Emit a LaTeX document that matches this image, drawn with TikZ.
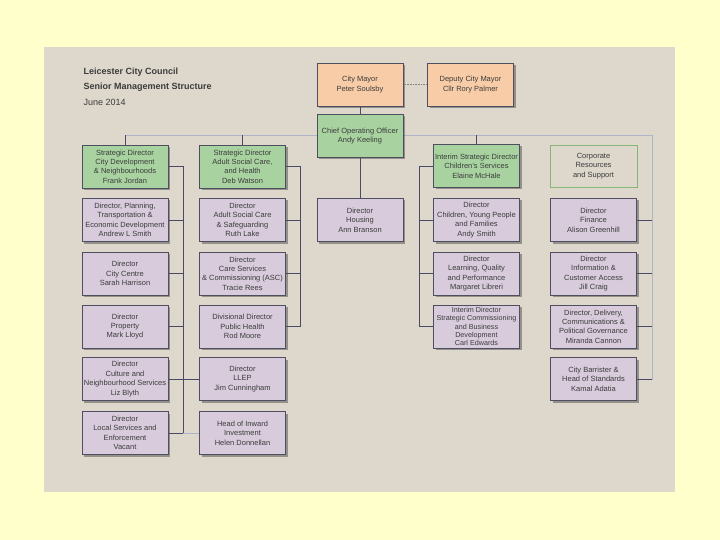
\documentclass[tikz,border=0pt]{standalone}
\usepackage{fontspec}
\setmainfont{Liberation Sans}
\usetikzlibrary{shadows}
\definecolor{slidebg}{HTML}{FFFFCC}
\definecolor{paper}{HTML}{DDD7CC}
\definecolor{peach}{HTML}{F8CCA6}
\definecolor{leaf}{HTML}{A8D3A0}
\definecolor{lilac}{HTML}{D7CBDC}
\definecolor{ink}{HTML}{3C3C3C}
\definecolor{edge}{HTML}{4E4E60}
\definecolor{wire}{HTML}{4A4A68}
\definecolor{faint}{HTML}{AEB4C8}
\definecolor{corpline}{HTML}{86B676}
\pgfdeclarelayer{bg}
\pgfsetlayers{bg,main}

\begin{document}
\begin{tikzpicture}[x=1pt,y=-1pt,
    post/.style={draw=edge,line width=0.7pt,minimum width=86pt,minimum height=43pt,
      inner sep=1pt,align=center,text=ink,font=\fontsize{7.5}{9.4}\selectfont,
      drop shadow={shadow xshift=2pt,shadow yshift=-2pt,fill=black!70,opacity=0.5}},
    mayor/.style={post,fill=peach},
    strat/.style={post,fill=leaf},
    dir/.style={post,fill=lilac},
    heading/.style={anchor=west,text=ink,font=\fontsize{9}{11}\selectfont},
    link/.style={draw=wire,line width=0.6pt},
    bus/.style={draw=faint,line width=0.6pt}]
    \useasboundingbox (0,0) rectangle (720,540);

    % title
    \node[heading,font=\fontsize{9}{11}\selectfont\bfseries] (title) at (80,72) {Leicester City Council};
    \node[heading,font=\fontsize{9}{11}\selectfont\bfseries] (subtitle) at (80,87) {Senior Management Structure};
    \node[heading] (date) at (80,102) {June 2014};

    % top
    \node[mayor] (mayor) at (360,84.5) {City Mayor\\Peter Soulsby};
    \node[mayor] (deputy) at (470.5,84.5) {Deputy City Mayor\\Cllr Rory Palmer};
    \node[strat] (coo) at (360,136) {Chief Operating Officer\\Andy Keeling};

    % strategic directors
    \node[strat] (sdcity) at (125,166.5) {Strategic Director\\City Development\\\& Neighbourhoods\\Frank Jordan};
    \node[strat] (sdadult) at (242.5,166.5) {Strategic Director\\Adult Social Care,\\and Health\\Deb Watson};
    \node[strat] (sdchild) at (476.5,166) {Interim Strategic Director\\Children's Services\\Elaine McHale};
    \node[draw=corpline,line width=0.6pt,minimum width=87pt,minimum height=42pt,align=center,
      text=ink,font=\fontsize{7.5}{9.4}\selectfont] (corp) at (593.5,166) {Corporate\\Resources\\and Support};

    % city development
    \node[dir] (dplan) at (125,220) {Director, Planning,\\Transportation \&\\Economic Development\\Andrew L Smith};
    \node[dir] (dcentre) at (125,273.5) {Director\\City Centre\\Sarah Harrison};
    \node[dir] (dproperty) at (125,326.5) {Director\\Property\\Mark Lloyd};
    \node[dir] (dculture) at (125,379) {Director\\Culture and\\Neighbourhood Services\\Liz Blyth};
    \node[dir] (dlocal) at (125,433) {Director\\Local Services and\\Enforcement\\Vacant};

    % adult social care
    \node[dir] (dasc) at (242.5,220) {Director\\Adult Social Care\\\& Safeguarding\\Ruth Lake};
    \node[dir] (dcare) at (242.5,273.5) {Director\\Care Services\\\& Commissioning (ASC)\\Tracie Rees};
    \node[dir] (dhealth) at (242.5,326.5) {Divisional Director\\Public Health\\Rod Moore};
    \node[dir] (dllep) at (242.5,379) {Director\\LLEP\\Jim Cunningham};
    \node[dir] (dinward) at (242.5,433) {Head of Inward\\Investment\\Helen Donnellan};

    \node[dir] (dhousing) at (360,220) {Director\\Housing\\Ann Branson};

    % children
    \node[dir] (dcyp) at (476.5,220) {Director\\Children, Young People\\and Families\\Andy Smith};
    \node[dir] (dlearn) at (476.5,273.5) {Director\\Learning, Quality\\and Performance\\Margaret Libreri};
    \node[dir,font=\fontsize{7.2}{8.2}\selectfont] (dcommission) at (476.5,326.5) {Interim Director\\Strategic Commissioning\\and Business\\Development\\Carl Edwards};

    % corporate
    \node[dir] (dfinance) at (593.5,220) {Director\\Finance\\Alison Greenhill};
    \node[dir] (dinfo) at (593.5,273.5) {Director\\Information \&\\Customer Access\\Jill Craig};
    \node[dir] (ddelivery) at (593.5,326.5) {Director, Delivery,\\Communications \&\\Political Governance\\Miranda Cannon};
    \node[dir] (dbarrister) at (593.5,379) {City Barrister \&\\Head of Standards\\Kamal Adatia};

    \coordinate (s1end) at (183,433);
    \coordinate (s2end) at (300,326.5);
    \coordinate (s4end) at (419,326.5);
    \coordinate (s5top) at (652,135);

    \begin{pgfonlayer}{bg}
    \fill[slidebg] (0,0) rectangle (720,540);
    \fill[paper] (44,47) rectangle (675,492);

    \draw[bus] (sdcity.north) |- (s5top);
    \draw[link] (sdcity.north) -- (sdcity.north |- s5top);
    \draw[link] (sdadult.north) -- (sdadult.north |- s5top);
    \draw[link] (sdchild.north) -- (sdchild.north |- s5top);
    \draw[link] (mayor) -- (coo);
    \draw[link] (coo) -- (dhousing);
    \draw[draw=gray,line width=0.6pt,densely dotted] (mayor) -- (deputy);

    \draw[link] (sdcity.east) -| (s1end);
    \foreach \b in {dplan,dcentre,dproperty,dculture,dlocal}
      \draw[link] (\b.east) -- (\b.east -| s1end);
    \draw[link] (dculture.east) -- (dllep.west);
    \draw[bus] (s1end) -- (dinward.west);

    \draw[link] (sdadult.east) -| (s2end);
    \foreach \b in {dasc,dcare,dhealth}
      \draw[link] (\b.east) -- (\b.east -| s2end);

    \draw[link] (sdchild.west) -| (s4end);
    \foreach \b in {dcyp,dlearn,dcommission}
      \draw[link] (\b.west) -- (\b.west -| s4end);

    \draw[bus] (s5top) |- (dbarrister.east);
    \foreach \b in {dfinance,dinfo,ddelivery,dbarrister}
      \draw[link] (\b.east) -- (\b.east -| s5top);
    \end{pgfonlayer}
\end{tikzpicture}
\end{document}
